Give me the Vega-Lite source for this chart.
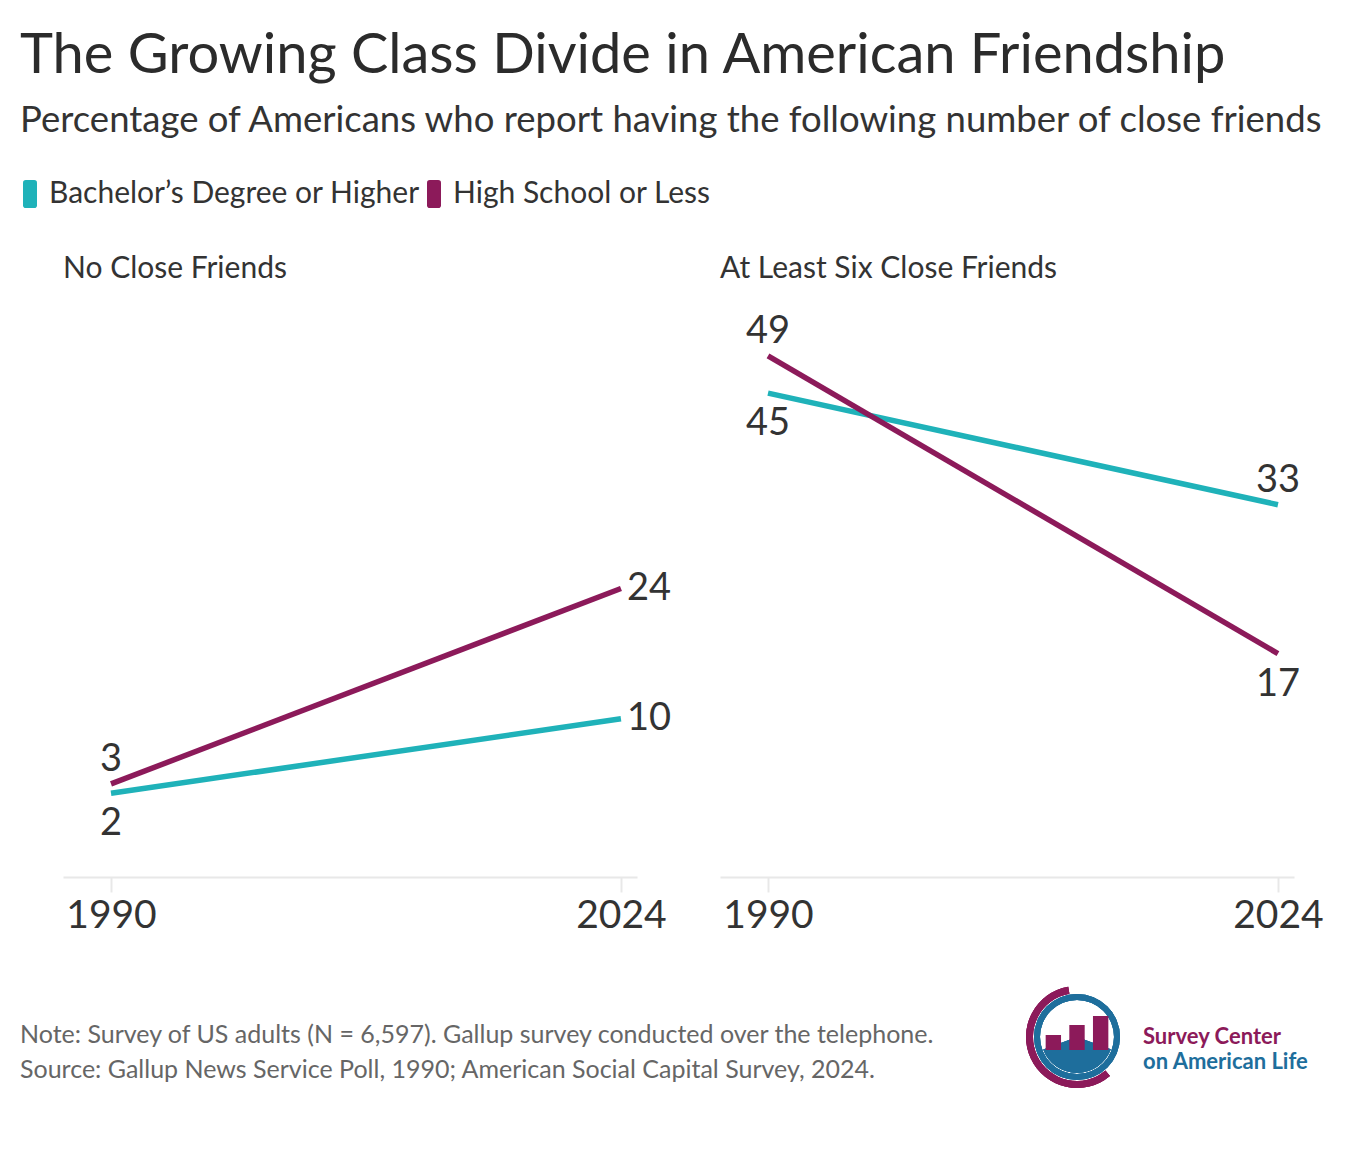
{
  "$schema": "https://vega.github.io/schema/vega-lite/v6.json",
  "background": "white",
  "padding": {"left": 20, "right": 20, "top": 27, "bottom": 10},
  "config": {
    "font": "Lato",
    "view": {"stroke": null}
  },
  "title": {
    "text": "The Growing Class Divide in American Friendship",
    "subtitle": "Percentage of Americans who report having the following number of close friends",
    "anchor": "start",
    "font": "Lato",
    "fontSize": 56,
    "fontWeight": "normal",
    "color": "#2b2b2b",
    "subtitleFont": "Lato",
    "subtitleFontSize": 36.5,
    "subtitleColor": "#333333",
    "subtitlePadding": 18,
    "offset": 39
  },
  "spacing": 51,
  "vconcat": [
    {
      "data": {
        "values": [
          {"panel": "No Close Friends", "group": "Bachelor’s Degree or Higher", "year": 1990, "value": 2},
          {"panel": "No Close Friends", "group": "Bachelor’s Degree or Higher", "year": 2024, "value": 10},
          {"panel": "No Close Friends", "group": "High School or Less", "year": 1990, "value": 3},
          {"panel": "No Close Friends", "group": "High School or Less", "year": 2024, "value": 24},
          {"panel": "At Least Six Close Friends", "group": "Bachelor’s Degree or Higher", "year": 1990, "value": 45},
          {"panel": "At Least Six Close Friends", "group": "Bachelor’s Degree or Higher", "year": 2024, "value": 33},
          {"panel": "At Least Six Close Friends", "group": "High School or Less", "year": 1990, "value": 49},
          {"panel": "At Least Six Close Friends", "group": "High School or Less", "year": 2024, "value": 17}
        ]
      },
      "facet": {
        "column": {
          "field": "panel",
          "type": "nominal",
          "sort": ["No Close Friends", "At Least Six Close Friends"],
          "title": null,
          "header": {
            "labelAnchor": "start",
            "labelFont": "Lato",
            "labelFontSize": 30,
            "labelColor": "#333333",
            "labelPadding": 16
          }
        }
      },
      "spacing": 83,
      "bounds": "flush",
      "spec": {
        "width": 574,
        "height": 577,
        "encoding": {
          "x": {
            "field": "year",
            "type": "quantitative",
            "scale": {"domain": [1986.8, 2025.07], "nice": false, "zero": false},
            "axis": {
              "values": [1990, 2024],
              "format": "d",
              "title": null,
              "grid": false,
              "labelFont": "Lato",
              "labelFontSize": 39,
              "labelColor": "#333333",
              "labelPadding": 4,
              "labelFlush": false,
              "domainColor": "#e8e8e8",
              "domainWidth": 2,
              "tickColor": "#e8e8e8",
              "tickWidth": 2,
              "tickSize": 15
            }
          },
          "y": {
            "field": "value",
            "type": "quantitative",
            "scale": {"domain": [-7, 55], "nice": false, "zero": false},
            "axis": {"labels": false, "ticks": false, "domain": false, "grid": false, "title": null, "minExtent": 43, "maxExtent": 43}
          },
          "color": {
            "field": "group",
            "type": "nominal",
            "scale": {
              "domain": ["Bachelor’s Degree or Higher", "High School or Less"],
              "range": ["#1fb2b9", "#8c1a5a"]
            },
            "legend": {
              "orient": "none",
              "legendX": -43,
              "legendY": -121,
              "direction": "horizontal",
              "title": null,
              "labelFont": "Lato",
              "labelFontSize": 30,
              "labelColor": "#333333",
              "labelLimit": 600,
              "labelOffset": 4,
              "columnPadding": 4,
              "symbolOffset": -5,
              "symbolType": "M-0.5,-0.8 Q-0.5,-1 -0.3,-1 L0.3,-1 Q0.5,-1 0.5,-0.8 L0.5,0.8 Q0.5,1 0.3,1 L-0.3,1 Q-0.5,1 -0.5,0.8 Z",
              "symbolSize": 784,
              "symbolStrokeWidth": 0,
              "symbolOpacity": 1,
              "encode": {
                "symbols": {"update": {"fill": {"scale": "color", "field": "value"}, "strokeWidth": {"value": 0}}}
              }
            }
          }
        },
        "layer": [
          {"mark": {"type": "line", "strokeWidth": 5.5, "strokeCap": "butt"}},
          {
            "transform": [{"filter": "datum.group == 'High School or Less' ? datum.year == 1990 : (datum.panel != 'No Close Friends' && datum.year == 2024)"}],
            "mark": {"type": "text", "baseline": "bottom", "dy": -5, "fontSize": 38, "font": "Lato"},
            "encoding": {"text": {"field": "value"}, "color": {"value": "#333333"}}
          },
          {
            "transform": [{"filter": "datum.group == 'High School or Less' ? (datum.panel != 'No Close Friends' && datum.year == 2024) : datum.year == 1990"}],
            "mark": {"type": "text", "baseline": "top", "dy": 12, "fontSize": 38, "font": "Lato"},
            "encoding": {"text": {"field": "value"}, "color": {"value": "#333333"}}
          },
          {
            "transform": [{"filter": "datum.panel == 'No Close Friends' && datum.year == 2024"}],
            "mark": {"type": "text", "align": "left", "baseline": "middle", "dx": 6, "fontSize": 38, "font": "Lato"},
            "encoding": {"text": {"field": "value"}, "color": {"value": "#333333"}}
          }
        ]
      }
    },
    {
      "spacing": 11,
      "hconcat": [
        {
          "width": 948,
          "height": 1,
          "data": {"values": []},
          "mark": "text",
          "title": {
            "text": "Note: Survey of US adults (N = 6,597). Gallup survey conducted over the telephone.",
            "subtitle": "Source: Gallup News Service Poll, 1990; American Social Capital Survey, 2024.",
            "anchor": "start",
            "frame": "group",
            "font": "Lato",
            "fontSize": 25,
            "fontWeight": "normal",
            "color": "#666666",
            "subtitleFont": "Lato",
            "subtitleFontSize": 25,
            "subtitleColor": "#666666",
            "subtitlePadding": 10,
            "dx": -43,
            "dy": 101
          }
        },
        {
          "width": 110,
          "height": 102,
          "data": {"values": [{"k": "a", "h": 15}, {"k": "b", "h": 25}, {"k": "c", "h": 34}]},
          "layer": [
            {"mark": {"type": "arc", "theta": 2.44, "theta2": 6.11, "radius": 44, "radius2": 51, "color": "#8c1a5a"}},
            {"mark": {"type": "arc", "theta": 0, "theta2": 6.2832, "radius": 37, "radius2": 43, "color": "#1e6e9c"}},
            {"mark": {"type": "arc", "theta": 1.92, "theta2": 4.36, "radius": 36, "radius2": 0, "color": "#1e6e9c"}},
            {
              "mark": {"type": "bar", "color": "#8c1a5a"},
              "encoding": {
                "x": {"field": "k", "type": "nominal", "axis": null, "scale": {"paddingInner": 0.35, "paddingOuter": 1.9}},
                "y": {"field": "h", "type": "quantitative", "axis": null, "scale": {"domain": [-38, 64], "nice": false}}
              }
            }
          ]
        },
        {
          "width": 1,
          "height": 1,
          "data": {"values": []},
          "mark": "text",
          "title": {
            "text": "Survey Center",
            "subtitle": "on American Life",
            "anchor": "start",
            "frame": "group",
            "font": "Lato",
            "fontSize": 22,
            "fontWeight": "bold",
            "color": "#8c1a5a",
            "subtitleFont": "Lato",
            "subtitleFontSize": 22,
            "subtitleFontWeight": "bold",
            "subtitleColor": "#1e6e9c",
            "subtitlePadding": 3,
            "dy": 92
          }
        }
      ]
    }
  ],
  "resolve": {"scale": {"color": "shared"}, "legend": {"color": "shared"}}
}
